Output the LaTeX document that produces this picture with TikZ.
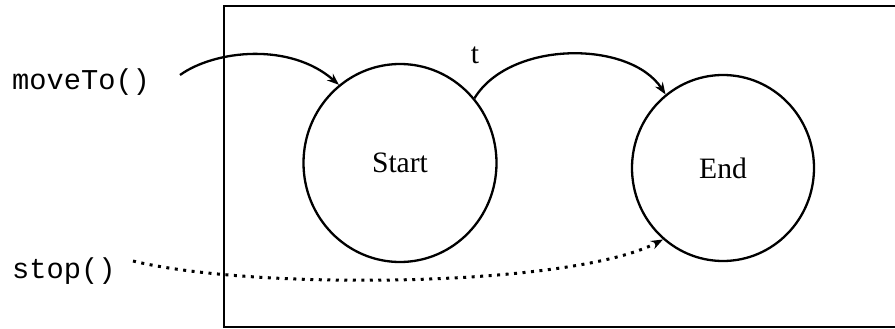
\documentclass[tikz,border=0pt]{standalone}
\usepackage{fontspec}
\setmainfont{Liberation Serif}
\newfontfamily\monofont{Liberation Mono}
\usetikzlibrary{shapes.geometric,arrows.meta}
\begin{document}
\begin{tikzpicture}[x=1pt,y=-1pt,
  state/.style={ellipse,draw,line width=2.3pt,inner sep=0pt,font=\fontsize{29.6}{30}\selectfont},
  call/.style={inner sep=0pt,anchor=west,font=\monofont\fontsize{28.7}{30}\selectfont},
  trans/.style={line width=2.3pt,-{Stealth[length=12pt,width=9pt]}},
  dots/.style={trans,line width=3pt,dash pattern=on 3pt off 5.5pt}]
\useasboundingbox (0,0) rectangle (895,329);
% frame (open on the right)
\draw[line width=2.4pt] (897,6) -- (224,6) -- (224,327) -- (897,327);
% states
\node[state,minimum width=193pt,minimum height=198pt] (start) at (400,163) {Start};
\node[state,minimum width=182pt,minimum height=186pt] (end) at (723,168) {End};
% calls
\node[call] (moveto) at (12,82) {moveTo()};
\node[call] (stop) at (12,271) {stop()};
\coordinate (m0) at (180,75);
\coordinate (s0) at (133,261);
% label
\node[font=\fontsize{29.6}{30}\selectfont,inner sep=0pt] (t) at (475,55) {t};
% connectors
\draw[trans] (m0) .. controls (215,50) and (290,42) .. (start.128);
\draw[trans] (start.41) .. controls (510,40) and (630,40) .. (end.128);
\draw[dots] (s0) .. controls (250,290) and (570,288) .. (end.230);
\end{tikzpicture}
\end{document}
